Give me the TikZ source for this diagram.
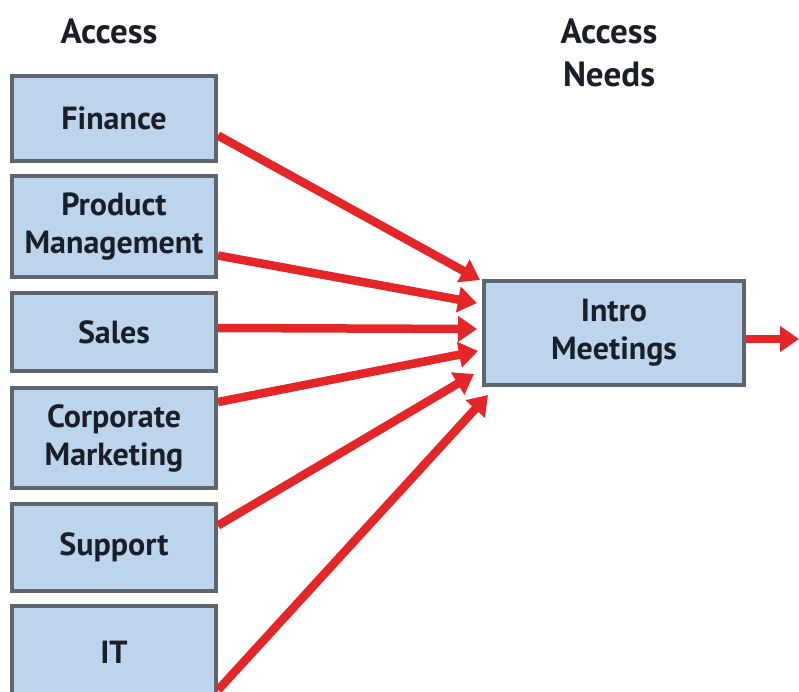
\documentclass[tikz,border=0pt]{standalone}
\usepackage{fontspec}
\setmainfont{PT Sans}
\usepackage{tikz}
\usetikzlibrary{arrows.meta,calc,positioning}
\definecolor{BoxFill}{HTML}{BDD5EC}
\definecolor{BoxLine}{HTML}{5E656C}
\definecolor{Flow}{HTML}{E42628}
\definecolor{Ink}{HTML}{1A1E28}

\begin{document}
\begin{tikzpicture}[x=1pt,y=-1pt,font=\fontsize{32}{38}\selectfont\bfseries,text=Ink,
    unit/.style={draw=BoxLine,fill=BoxFill,line width=4pt,minimum width=204pt,align=center,inner sep=0pt},
    flow/.style={draw=Flow,line width=8.5pt,-{Triangle[length=19pt,width=25pt]}}]
    \useasboundingbox (0,0) rectangle (799,692);
    \node[font=\fontsize{35}{43}\selectfont\bfseries] (hsrc) at (109,31) {Access};
    \node[font=\fontsize{35}{43}\selectfont\bfseries,align=center] (hdst) at (609,53) {Access\\Needs};
    \node[unit,minimum height=85pt] (fin) at (114,118.5) {Finance};
    \node[unit,minimum height=101pt] (pm) at (114,226.5) {Product\\Management};
    \node[unit,minimum height=78pt] (sales) at (114,332) {Sales};
    \node[unit,minimum height=100pt] (corp) at (114,438) {Corporate\\Marketing};
    \node[unit,minimum height=87pt] (sup) at (114,547.5) {Support};
    \node[unit,minimum height=92pt] (it) at (114,652) {IT};
    \node[unit,minimum width=260pt,minimum height=104pt] (intro) at (614,333) {Intro\\Meetings};
    % arrow tips in front of the intro box
    \coordinate (t1) at (480,280);
    \coordinate (t2) at (477,303);
    \coordinate (t3) at (477,329);
    \coordinate (t4) at (478,351);
    \coordinate (t5) at (474,374);
    \coordinate (t6) at (488,395);
    \coordinate (out) at (799,339);
    \foreach \a/\d/\b in {fin/-17/t1,pm/-29/t2,sales/4/t3,corp/36/t4,sup/22/t5,it/-38/t6}{\draw[flow] ([yshift=\d pt]\a.east) -- (\b);}
    \draw[flow] ([yshift=-6pt]intro.east) -- (out);
  \end{tikzpicture}
\end{document}
